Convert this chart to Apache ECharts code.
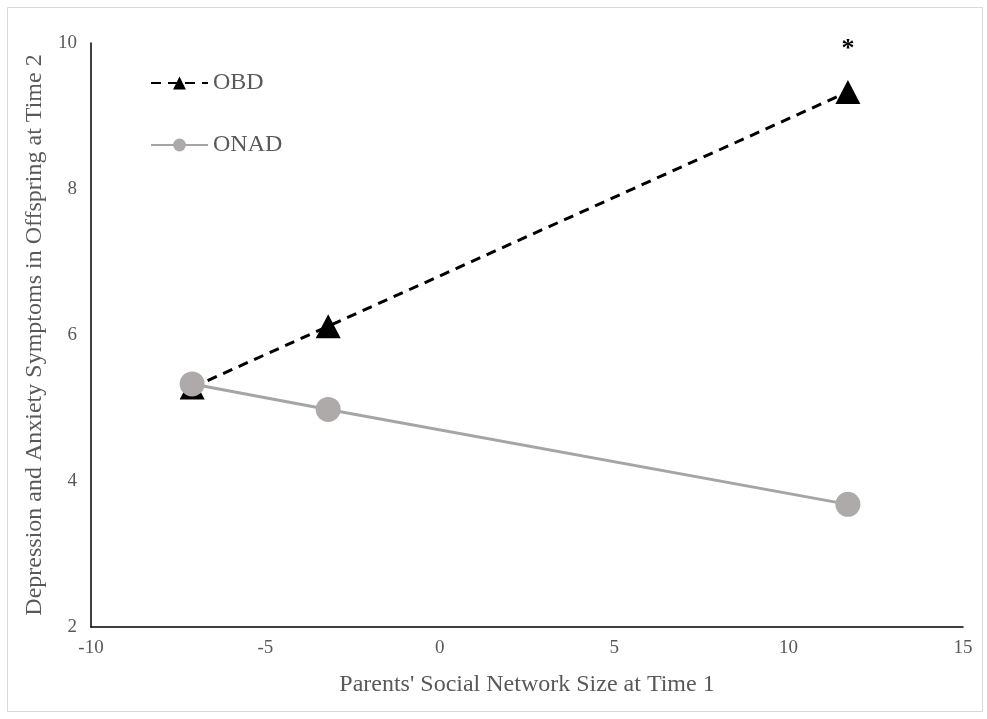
<!DOCTYPE html>
<html>
<head>
<meta charset="utf-8">
<script src="https://cdn.jsdelivr.net/npm/echarts@6/dist/echarts.min.js"></script>
<style>
	html, body { margin: 0; padding: 0; background: #fff; }
	#main { width: 987px; height: 719px; }
</style>
</head>
<body>
<div id="main"></div>
<script>
// values
var xNetwork = [-7.1, -3.2, 11.7];
var obdValues = [5.28, 6.12, 9.33];
var onadValues = [5.33, 4.98, 3.68];
var xTicks = [-10, -5, 0, 5, 10, 15];
var yTicks = [2, 4, 6, 8, 10];

var serif = '"Liberation Serif", "Times New Roman", serif';
var grey = '#595959';

function pairs(xs, ys) {
	return xs.map(function (x, i) { return [x, ys[i]]; });
}

var obdData = pairs(xNetwork, obdValues);
// significance star over the last OBD point
obdData[2] = {
	value: obdData[2],
	label: { show: true, position: 'top', distance: 18, formatter: '*', color: '#000', fontSize: 26, fontWeight: 'bold', fontFamily: serif }
};

var myChart = echarts.init(document.getElementById('main'));
myChart.setOption({
	animation: false,
	textStyle: { fontFamily: serif },
	graphic: [{
		type: 'rect',
		shape: { x: 7.5, y: 7.5, width: 975, height: 704 },
		style: { fill: 'none', stroke: '#d9d9d9', lineWidth: 1 }
	}],
	grid: { left: 91, right: 24, top: 43, bottom: 92, containLabel: false },
	legend: {
		orient: 'vertical',
		left: 145,
		top: 66,
		itemGap: 38,
		itemWidth: 57,
		itemHeight: 16,
		textStyle: { fontFamily: serif, fontSize: 24, color: grey },
		data: ['OBD', 'ONAD']
	},
	xAxis: {
		type: 'value',
		min: xTicks[0],
		max: xTicks[xTicks.length - 1],
		interval: 5,
		name: "Parents' Social Network Size at Time 1",
		nameLocation: 'middle',
		nameGap: 46,
		nameTextStyle: { fontFamily: serif, fontSize: 24, color: grey },
		axisLine: { onZero: false, lineStyle: { color: '#000', width: 1.5 } },
		axisTick: { show: false },
		axisLabel: { color: grey, fontSize: 19, fontFamily: serif, margin: 12 },
		splitLine: { show: false }
	},
	yAxis: {
		type: 'value',
		min: yTicks[0],
		max: yTicks[yTicks.length - 1],
		interval: 2,
		name: 'Depression and Anxiety Symptoms in Offspring at Time 2',
		nameLocation: 'middle',
		nameGap: 42,
		nameTextStyle: { fontFamily: serif, fontSize: 24, color: grey },
		axisLine: { show: true, onZero: false, lineStyle: { color: '#000', width: 1.5 } },
		axisTick: { show: false },
		axisLabel: { color: grey, fontSize: 19, fontFamily: serif, margin: 14 },
		splitLine: { show: false }
	},
	series: [{
		name: 'ONAD',
		type: 'line',
		data: pairs(xNetwork, onadValues),
		symbol: 'circle',
		symbolSize: 25,
		lineStyle: { color: '#a5a5a5', width: 3 },
		itemStyle: { color: '#aeaaaa' },
		z: 2
	}, {
		name: 'OBD',
		type: 'line',
		data: obdData,
		symbol: 'triangle',
		symbolSize: [25, 24],
		lineStyle: { color: '#000', width: 3, type: [10, 7] },
		itemStyle: { color: '#000' },
		z: 1
	}]
});
</script>
</body>
</html>
